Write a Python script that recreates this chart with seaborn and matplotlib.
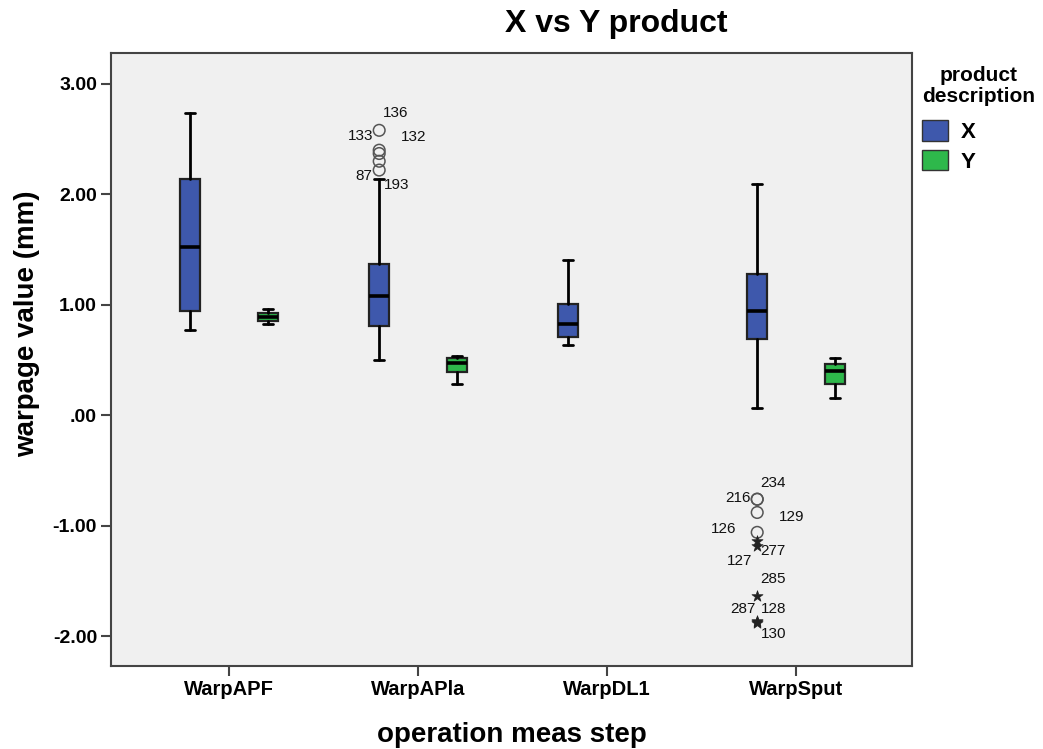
import numpy as np
import pandas as pd
import matplotlib
matplotlib.use("Agg")
import matplotlib.pyplot as plt
import seaborn as sns
from matplotlib.patches import Patch

steps = ['WarpAPF', 'WarpAPla', 'WarpDL1', 'WarpSput']

# box stats for product X (whisker low, q1, median, q3, whisker high)
x_low = [0.77, 0.50, 0.64, 0.07]
x_q1 = [0.94, 0.81, 0.71, 0.69]
x_med = [1.52, 1.08, 0.83, 0.94]
x_q3 = [2.14, 1.37, 1.01, 1.28]
x_high = [2.74, 2.14, 1.41, 2.09]

# product Y has no WarpDL1 measurements
y_steps = ['WarpAPF', 'WarpAPla', 'WarpSput']
y_low = [0.83, 0.28, 0.16]
y_q1 = [0.855, 0.39, 0.28]
y_med = [0.89, 0.47, 0.40]
y_q3 = [0.925, 0.52, 0.46]
y_high = [0.96, 0.54, 0.52]

# outlier cases (all product X); kind: 'o' = outlier, '*' = extreme
out_step = ['WarpAPla'] * 5 + ['WarpSput'] * 10
out_value = [2.58, 2.40, 2.37, 2.30, 2.22,
             -0.76, -0.76, -0.88, -1.06, -1.14, -1.18, -1.64, -1.86, -1.87, -1.88]
out_kind = ['o'] * 9 + ['*'] * 6
out_case = ['136', '133', '132', '87', '193',
            '234', '216', '129', '126', '277', '127', '285', '287', '128', '130']

# label offsets in pixels (layout only)
lab_dx = [16, -19, 34, -15, 17, 16, -19, 34, -34, 16, -18, 16, -14, 16, 16]
lab_dy = [17, 14, 17, -15, -15, 16, 1, -5, 3, -10, -15, 17, 12, 13, -11]

blue = '#3E58AC'
green = '#2EB84B'
off = 0.205
bw = 0.106

sns.set_style('white')
plt.rcParams['font.family'] = ['Liberation Sans', 'DejaVu Sans']
plt.rcParams.update({'text.color': 'black', 'axes.labelcolor': 'black',
                     'xtick.color': 'black', 'ytick.color': 'black'})

fig = plt.figure(figsize=(10.43, 7.49), dpi=100)
ax = fig.add_axes([111 / 1043, 1 - 666 / 749, 801 / 1043, 613 / 749])
ax.set_facecolor('#F0F0F0')


def draw(names, lo, q1, med, q3, hi, shift, color):
    stats = []
    pos = []
    for i, n in enumerate(names):
        stats.append(dict(whislo=lo[i], q1=q1[i], med=med[i], q3=q3[i], whishi=hi[i], fliers=[]))
        pos.append(steps.index(n) + shift)
    ax.bxp(stats, positions=pos, widths=bw, patch_artist=True, showfliers=False,
           capwidths=bw / 2,
           boxprops=dict(facecolor=color, edgecolor='#222222', linewidth=1.6),
           medianprops=dict(color='black', linewidth=2.6),
           whiskerprops=dict(color='black', linewidth=2),
           capprops=dict(color='black', linewidth=2))


draw(steps, x_low, x_q1, x_med, x_q3, x_high, -off, blue)
draw(y_steps, y_low, y_q1, y_med, y_q3, y_high, off, green)

df = pd.DataFrame({'step': out_step, 'value': out_value, 'kind': out_kind, 'case': out_case})
df['pos'] = df['step'].map(lambda s: steps.index(s) - off)

circ = df[df['kind'] == 'o']
star = df[df['kind'] == '*']
sns.scatterplot(data=circ, x='pos', y='value', ax=ax, marker='o', s=70,
                facecolors='none', edgecolor='#555555', linewidth=1.1, legend=False)
sns.scatterplot(data=star, x='pos', y='value', ax=ax, marker='*', s=70,
                color='#222222', edgecolor='#222222', linewidth=0.5, legend=False)

for i, row in df.iterrows():
    ax.annotate(row['case'], (row['pos'], row['value']), xytext=(lab_dx[i], lab_dy[i]),
                textcoords='offset pixels', ha='center', va='center', fontsize=11, color='#111111')

ax.set_xlim(-0.624, 3.614)
ax.set_ylim(-2.27, 3.28)
ax.set_xticks(range(len(steps)))
ax.set_xticklabels(steps, fontsize=14.5, fontweight='bold')
yt = [3, 2, 1, 0, -1, -2]
ax.set_yticks(yt)
ax.set_yticklabels(['3.00', '2.00', '1.00', '.00', '-1.00', '-2.00'], fontsize=14, fontweight='bold')
ax.tick_params(axis='both', length=7, width=1.5, color='#444444', direction='out', pad=3,
               bottom=True, left=True)
for sp in ax.spines.values():
    sp.set_color('#444444')
    sp.set_linewidth(1.5)

ax.set_xlabel('operation meas step', fontsize=20, fontweight='bold', labelpad=17)
ax.set_ylabel('warpage value (mm)', fontsize=20, fontweight='bold')
ax.yaxis.set_label_coords(-0.088, 0.558)
fig.text(616 / 1043, 1 - 24 / 749, 'X vs Y product', ha='center', va='center',
         fontsize=23, fontweight='bold')

handles = [Patch(facecolor=blue, edgecolor='#333333'), Patch(facecolor=green, edgecolor='#333333')]
leg = fig.legend(handles, ['X', 'Y'], title='product\ndescription', loc='upper left',
                 bbox_to_anchor=(922 / 1043, 1 - 66 / 749), frameon=False, alignment='left',
                 handlelength=1.15, handleheight=1.05, borderpad=0, borderaxespad=0,
                 prop=dict(size=16, weight='bold'), handletextpad=0.6, labelspacing=0.3)
leg.get_title().set_fontsize(15)
leg.get_title().set_fontweight('bold')
leg.get_title().set_multialignment('center')
leg.get_title().set_linespacing(1.15)
leg._legend_box.sep = 10

fig.savefig('out.png', dpi=100)
